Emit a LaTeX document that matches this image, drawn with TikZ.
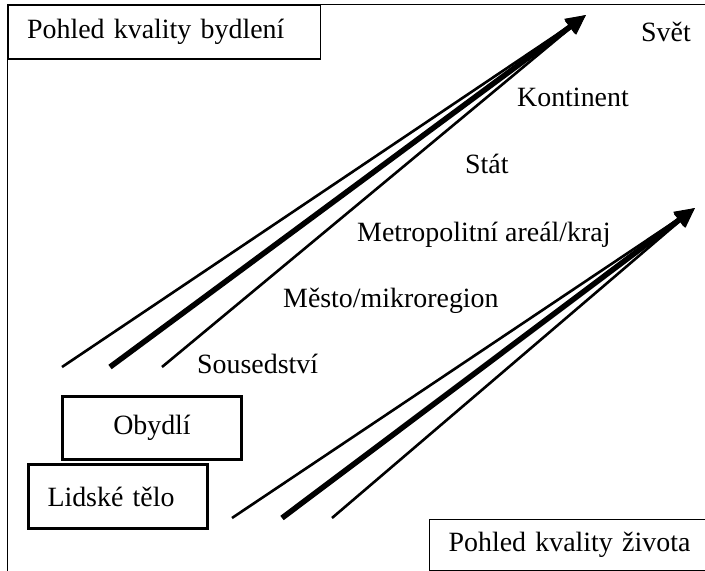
\documentclass[tikz,border=0pt]{standalone}
\usepackage{fontspec}
\setmainfont{Liberation Serif}
\usetikzlibrary{arrows.meta}
\begin{document}
\begin{tikzpicture}[x=1bp,y=-1bp,
  lbl/.style={font=\fontsize{28}{32}\selectfont, inner sep=0pt, anchor=base west},
  thinbox/.style={draw, line width=1.3bp, font=\fontsize{28}{32}\selectfont, anchor=north west, inner ysep=0pt},
  thickbox/.style={draw, line width=3bp, font=\fontsize{28}{32}\selectfont, anchor=north west, inner ysep=0pt},
  thinarrow/.style={line width=2.6bp, -{Triangle[length=20bp,width=17bp]}},
  thickarrow/.style={line width=5.5bp, -{Triangle[length=20bp,width=17bp]}},
  frame/.style={line width=1.3bp}]
\useasboundingbox (0,0) rectangle (705,571);
\clip (0,0) rectangle (705,571);
% outer frame
\draw[frame] (7.5,4.5) rectangle (730,600);
% boxes
\node[thinbox, fill=white, minimum width=312bp, minimum height=54bp, text width=274bp, inner xsep=19bp, align=left] (bydleni) at (7.5,4.5) {Pohled kvality bydlení};
\node[thinbox, fill=white, minimum width=300bp, minimum height=51bp, text width=262bp, inner xsep=19bp, align=left] (zivot) at (429,519) {Pohled kvality života};
\node[thickbox, minimum width=179bp, minimum height=63bp] (obydli) at (61,395) {Obydlí};
\node[thickbox, minimum width=179bp, minimum height=64bp, text width=141bp, inner xsep=19bp, align=left] (telo) at (27,463) {Lidské tělo};
% labels
\node[lbl] (svet) at (641,42) {Svět};
\node[lbl] (kontinent) at (517,107) {Kontinent};
\node[lbl] (stat) at (465,174) {Stát};
\node[lbl] (metro) at (357,241) {Metropolitní areál/kraj};
\node[lbl] (mesto) at (283,307) {Město/mikroregion};
\node[lbl] (soused) at (197,373) {Sousedství};
% arrows top
\coordinate (tipA) at (586,15);
\coordinate (a1) at (62,367);
\coordinate (a2) at (110,367);
\coordinate (a3) at (162,367);
\draw[thinarrow] (a1) -- (tipA);
\draw[thinarrow] (a3) -- (tipA);
\draw[thickarrow] (a2) -- (tipA);
% arrows bottom
\coordinate (tipB) at (695,208);
\coordinate (b1) at (232,518);
\coordinate (b2) at (282,518);
\coordinate (b3) at (332,518);
\draw[thinarrow] (b1) -- (tipB);
\draw[thinarrow] (b3) -- (tipB);
\draw[thickarrow] (b2) -- (tipB);
\end{tikzpicture}
\end{document}
